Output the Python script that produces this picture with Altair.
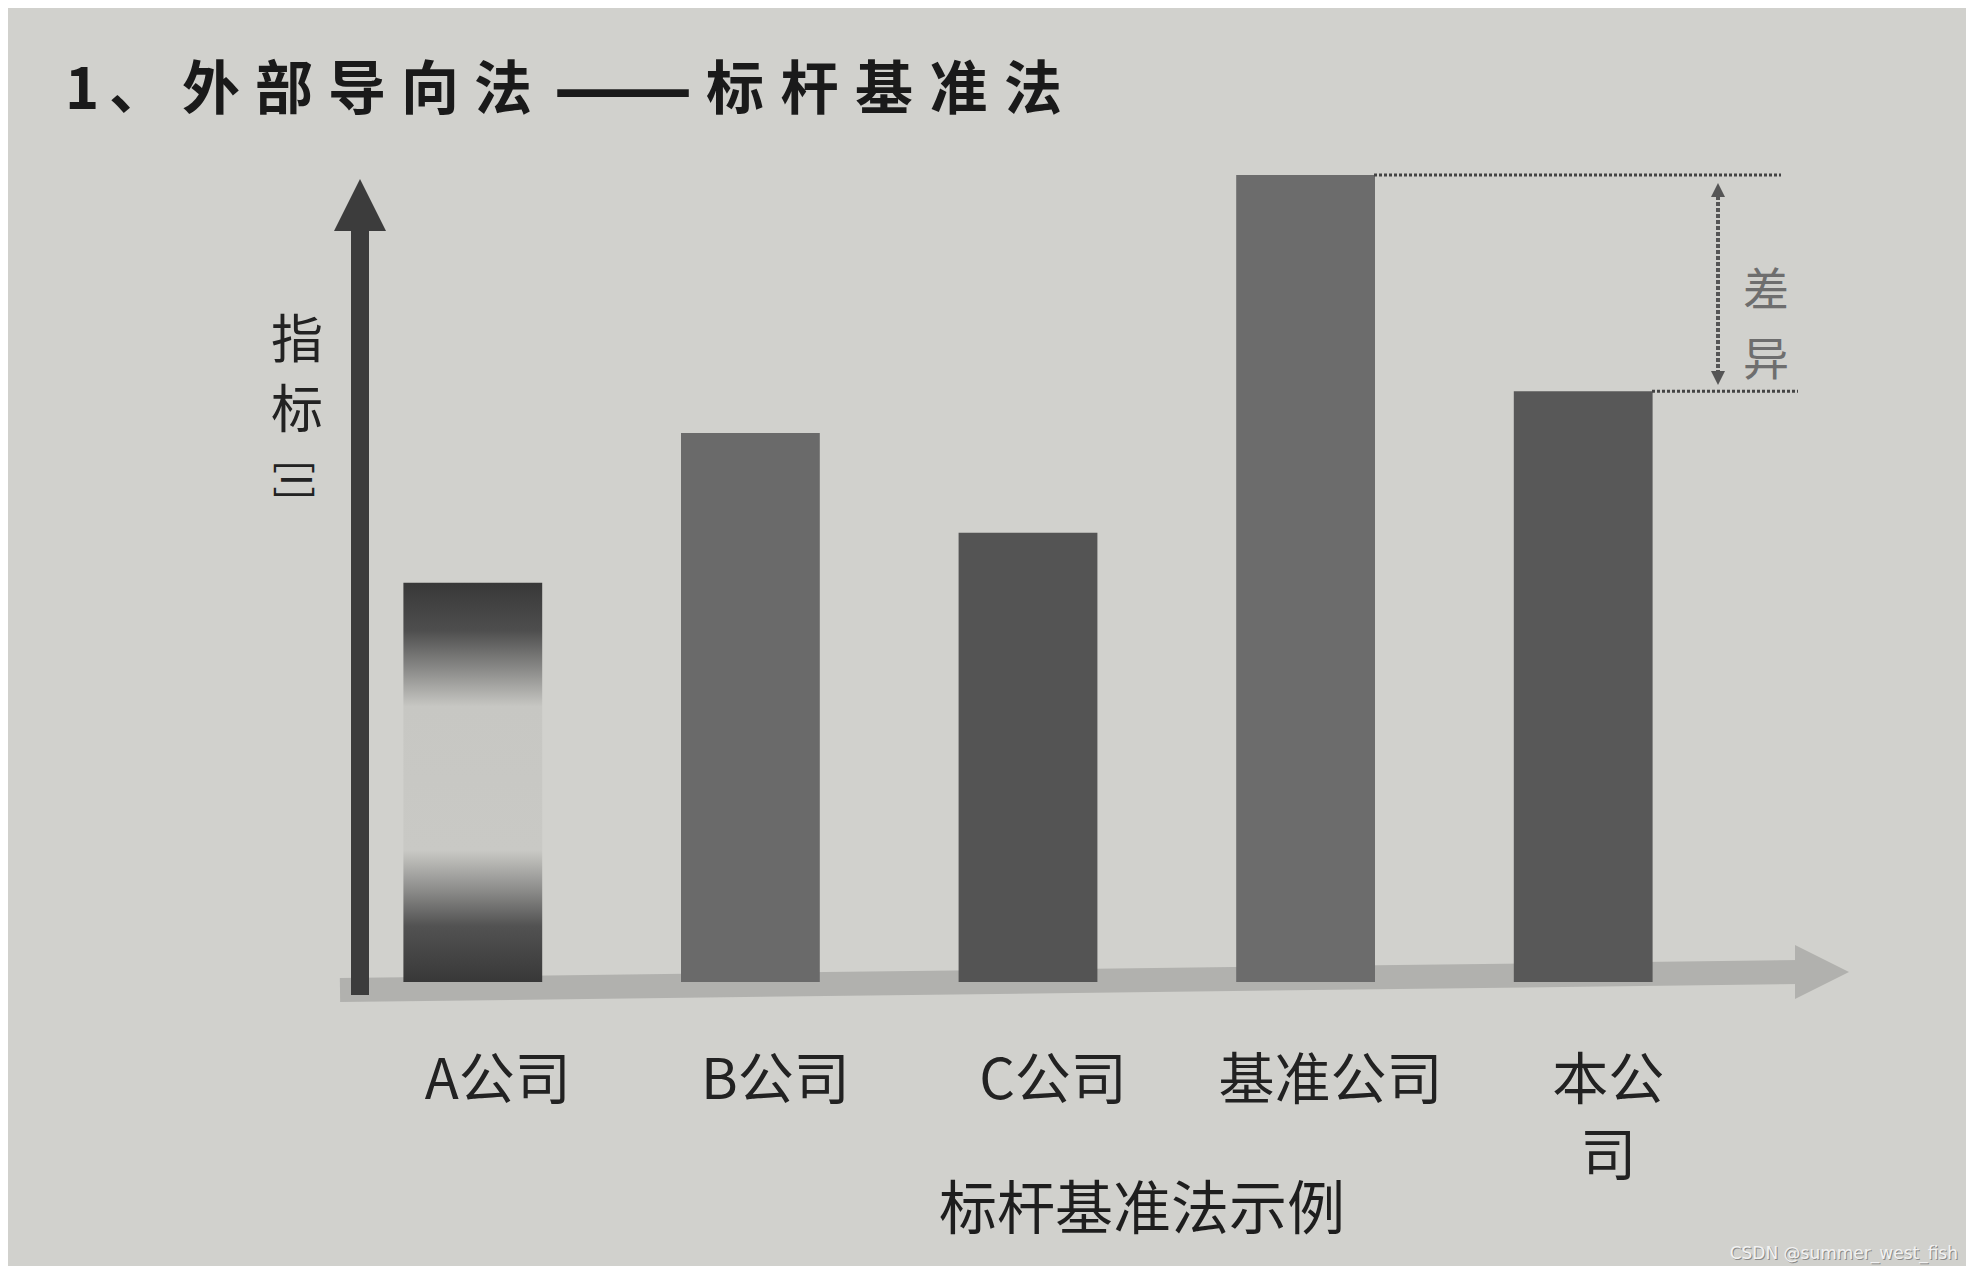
import altair as alt
import pandas as pd

# ---- data ----
companies = ["A公司", "B公司", "C公司", "基准公司", "本公司"]
values = [48, 66, 54, 97, 71]
title_text = "1、外部导向法——标杆基准法"
y_label = ["指", "标"]
y_unit = "[I]"
x_title = "标杆基准法示例"
diff_label = ["差", "异"]
watermark = "CSDN @summer_west_fish"

df = pd.DataFrame({"company": companies, "value": values})

W, H = 1388, 832
PAPER = "#d1d1cd"
FONT = "Noto Sans CJK SC"
DARK = "#3c3c3c"
BAND = "#b1b1ae"

xs = alt.Scale(domain=companies, paddingInner=0.5, paddingOuter=0.25)
ys = alt.Scale(domain=[0, 100], nice=False, zero=True)
X = alt.X("company:N", scale=xs, axis=None, sort=companies)
Y = alt.Y("value:Q", scale=ys, axis=None)

base = alt.Chart(df)
one = alt.Chart(alt.Data(values=[{"k": 1}]))

# x axis band with arrow head
x_band = one.mark_rule(color=BAND, strokeWidth=24, strokeCap="butt").encode(
    x=alt.value(6), x2=alt.value(1466), y=alt.value(840), y2=alt.value(822)
)
x_head = one.mark_point(shape="M-1,-1L1,0L-1,1Z", size=2916, filled=True,
                        color=BAND, opacity=1, strokeWidth=0).encode(
    x=alt.value(1488), y=alt.value(822)
)

# y axis arrow
y_shaft = one.mark_rule(color=DARK, strokeWidth=18, strokeCap="butt").encode(
    x=alt.value(26), y=alt.value(78), y2=alt.value(845)
)
y_head = one.mark_point(shape="M-1,1L0,-1L1,1Z", size=2704, filled=True,
                        color=DARK, opacity=1, strokeWidth=0).encode(
    x=alt.value(26), y=alt.value(55)
)

# bars
bars = base.transform_filter("datum.company != 'A公司'").mark_bar().encode(
    x=X, y=Y,
    color=alt.Color("company:N", legend=None,
                    scale=alt.Scale(domain=companies[1:],
                                    range=["#6a6a6a", "#545454", "#6c6c6c", "#585858"])),
)
grad = alt.Gradient(
    gradient="linear", x1=0, x2=0, y1=0, y2=1,
    stops=[
        alt.GradientStop(color="#383838", offset=0),
        alt.GradientStop(color="#4e4e4e", offset=0.12),
        alt.GradientStop(color="#8c8c8a", offset=0.22),
        alt.GradientStop(color="#c7c7c3", offset=0.31),
        alt.GradientStop(color="#c9c9c5", offset=0.67),
        alt.GradientStop(color="#8c8c8a", offset=0.77),
        alt.GradientStop(color="#525252", offset=0.86),
        alt.GradientStop(color="#383838", offset=1),
    ],
)
bar_a = base.transform_filter("datum.company == 'A公司'").mark_bar(color=grad).encode(x=X, y=Y)

# difference annotation
line_top = base.transform_filter("datum.company == '基准公司'").mark_rule(
    color="#444444", strokeWidth=3, strokeDash=[3, 2]
).encode(y=Y, x=alt.value(1040), x2=alt.value(1447))
line_bot = base.transform_filter("datum.company == '本公司'").mark_rule(
    color="#444444", strokeWidth=3, strokeDash=[3, 2]
).encode(y=Y, x=alt.value(1318), x2=alt.value(1464))
diff_shaft = one.mark_rule(color="#555555", strokeWidth=4, strokeDash=[4, 2]).encode(
    x=alt.value(1384), y=alt.value(40), y2=alt.value(226)
)
diff_up = one.mark_point(shape="M-1,1L0,-1L1,1Z", size=196, filled=True,
                         color="#555555", opacity=1, strokeWidth=0).encode(
    x=alt.value(1384), y=alt.value(40)
)
diff_down = one.mark_point(shape="M-1,-1L0,1L1,-1Z", size=196, filled=True,
                           color="#555555", opacity=1, strokeWidth=0).encode(
    x=alt.value(1384), y=alt.value(228)
)
diff_text = one.mark_text(text=diff_label, font=FONT, fontSize=46, lineHeight=69,
                          color="#6e6e6e", align="center", baseline="middle").encode(
    x=alt.value(1432), y=alt.value(142)
)

# texts
labels = base.transform_calculate(
    label="datum.company == '本公司' ? '本公\\n司' : datum.company"
).mark_text(font=FONT, fontSize=56, lineHeight=76, lineBreak="\n", baseline="top",
            align="center", dx=25, color="#222222").encode(
    x=X, y=alt.value(905), text="label:N"
)
xtitle = one.mark_text(text=x_title, font=FONT, fontSize=58, color="#1e1e1e",
                       align="center", baseline="middle").encode(
    x=alt.value(808), y=alt.value(1062)
)

# title: printed with wide letter spacing, so each glyph is placed on its own
title_layers = []
pieces = [title_text[0], title_text[1], title_text[2:7], title_text[7:9], title_text[9:]]
starts = [-252, -196, -123, 289, 401]   # centre of first glyph of each piece (plot px)
steps = [0, 0, 73, 0, 74.5]
sizes = [58, 58, 58, 82, 58]
for piece, x0, st, fs in zip(pieces, starts, steps, sizes):
    if st == 0:
        title_layers.append(one.mark_text(
            text=piece, font=FONT, fontSize=fs, fontWeight="bold", color="#1a1a1a",
            align="center", baseline="middle"
        ).encode(x=alt.value(x0), y=alt.value(-58)))
    else:
        for i, ch in enumerate(piece):
            title_layers.append(one.mark_text(
                text=ch, font=FONT, fontSize=fs, fontWeight="bold", color="#1a1a1a",
                align="center", baseline="middle"
            ).encode(x=alt.value(x0 + i * st), y=alt.value(-58)))

ylab = one.mark_text(text=y_label, font=FONT, fontSize=52, lineHeight=70,
                     color="#222222", align="center", baseline="middle").encode(
    x=alt.value(-37), y=alt.value(192)
)
yunit = one.mark_text(text=y_unit, font=FONT, fontSize=42, angle=90,
                      color="#222222", align="center", baseline="middle").encode(
    x=alt.value(-40), y=alt.value(330)
)
wm_shadow = one.mark_text(text=watermark, font="DejaVu Sans", fontSize=17,
                          color="#8a8a88", align="right", baseline="bottom").encode(
    x=alt.value(1625), y=alt.value(1114)
)
wm = one.mark_text(text=watermark, font="DejaVu Sans", fontSize=17,
                   color="#f2f2f2", align="right", baseline="bottom").encode(
    x=alt.value(1624), y=alt.value(1113)
)

chart = alt.layer(
    x_band, x_head, bars, bar_a, y_shaft, y_head,
    line_top, line_bot, diff_shaft, diff_up, diff_down, diff_text,
    labels, xtitle, *title_layers, ylab, yunit, wm_shadow, wm,
).properties(
    width=W, height=H,
    padding={"left": 326, "top": 142, "right": 244, "bottom": 284},
    autosize=alt.AutoSizeParams(type="none"),
    background=PAPER,
).configure_view(stroke=None)

chart.save("out.html", embed_options={"renderer": "svg", "actions": False})
